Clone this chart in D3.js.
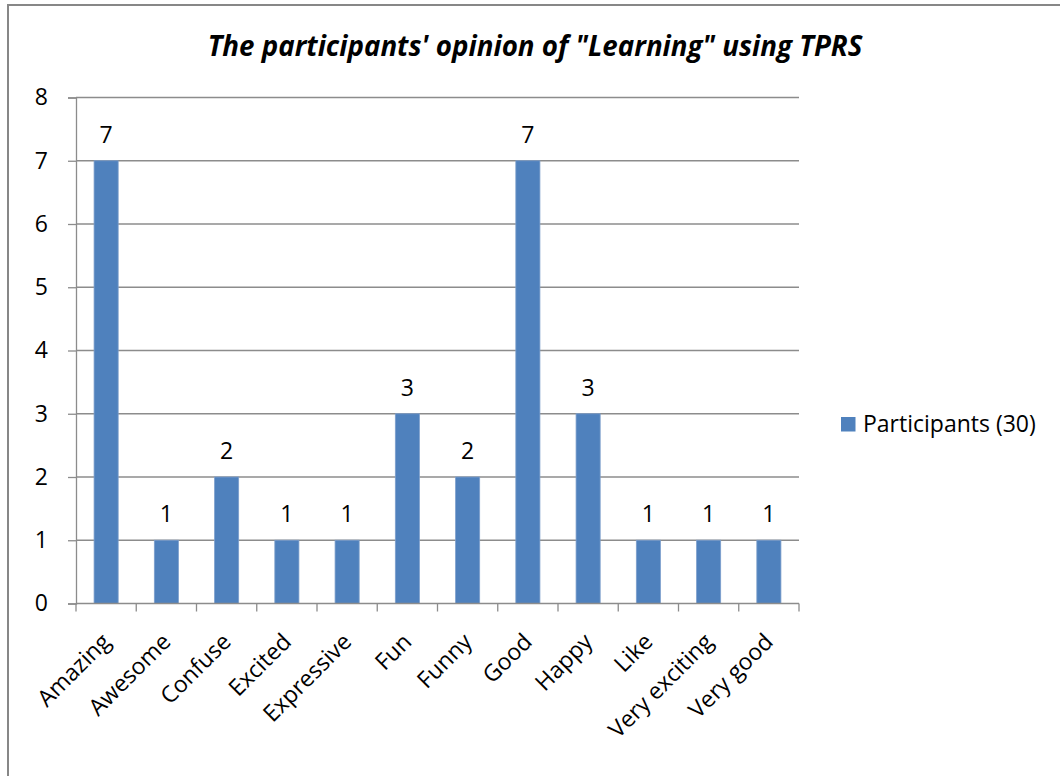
<!DOCTYPE html>
<html><head><meta charset="utf-8">
<script src="https://cdn.jsdelivr.net/npm/d3@7"></script>
<style>body{margin:0;background:#fff;} svg{display:block;}</style>
</head><body>
<svg id="c" width="1060" height="776"></svg>
<script>
const categories = ["Amazing","Awesome","Confuse","Excited","Expressive","Fun","Funny","Good","Happy","Like","Very exciting","Very good"];
const values = [7,1,2,1,1,3,2,7,3,1,1,1];
const yTicks = [0,1,2,3,4,5,6,7,8];
const seriesName = "Participants (30)";
const title = "The participants' opinion of \"Learning\" using TPRS";

const svg = d3.select("#c");
const font = "Open Sans, Noto Sans, sans-serif";
const fs = 23;
const m = {left:76, right:799, top:97.5, bottom:603.5};

// outer frame
svg.append("rect").attr("x",8).attr("y",5).attr("width",1100).attr("height",800)
  .attr("fill","none").attr("stroke","#878787").attr("stroke-width",2);

svg.append("text").attr("x",535).attr("y",56).attr("text-anchor","middle")
  .attr("font-family",font).attr("font-size",27.7).attr("font-weight","bold").attr("font-style","italic")
  .attr("fill","#000").text(title);

const x = d3.scaleBand().domain(categories).range([m.left,m.right]).paddingInner(0.6).paddingOuter(0.3);
const y = d3.scaleLinear().domain([0,8]).range([m.bottom,m.top]);

// gridlines
svg.append("g").selectAll("line").data(yTicks.filter(d=>d>0)).join("line")
  .attr("x1",m.left).attr("x2",m.right).attr("y1",d=>y(d)).attr("y2",d=>y(d))
  .attr("stroke","#8c8c8c").attr("stroke-width",1.3);

// y axis
const ya = svg.append("g").attr("transform",`translate(${m.left},0)`)
  .call(d3.axisLeft(y).tickValues(yTicks).tickSize(8).tickPadding(20).tickFormat(d3.format("d")));
ya.select(".domain").attr("stroke","#8c8c8c").attr("stroke-width",1.3);
ya.selectAll(".tick line").attr("stroke","#8c8c8c").attr("stroke-width",1.3);
ya.selectAll("text").attr("font-family",font).attr("font-size",fs).attr("fill","#000");

// bars
svg.append("g").selectAll("rect").data(categories).join("rect")
  .attr("x",d=>x(d)).attr("width",x.bandwidth())
  .attr("y",(d,i)=>y(values[i])).attr("height",(d,i)=>y(0)-y(values[i]))
  .attr("fill","#4F81BD").attr("stroke","#7d9fcc").attr("stroke-width",0.8);

// value labels
svg.append("g").selectAll("text").data(categories).join("text")
  .attr("x",d=>x(d)+x.bandwidth()/2).attr("y",(d,i)=>y(values[i])-18)
  .attr("text-anchor","middle").attr("font-family",font).attr("font-size",fs).attr("fill","#000")
  .text((d,i)=>values[i]);

// x axis
const bounds = d3.range(categories.length+1).map(i=>m.left + i*(m.right-m.left)/categories.length);
svg.append("line").attr("x1",m.left).attr("x2",m.right).attr("y1",y(0)).attr("y2",y(0))
  .attr("stroke","#8c8c8c").attr("stroke-width",1.3);
svg.append("g").selectAll("line").data(bounds).join("line")
  .attr("x1",d=>d).attr("x2",d=>d).attr("y1",y(0)).attr("y2",y(0)+8)
  .attr("stroke","#8c8c8c").attr("stroke-width",1.3);
svg.append("g").selectAll("text").data(categories).join("text")
  .attr("transform",d=>`translate(${x(d)+x.bandwidth()/2},${y(0)+34}) rotate(-45)`)
  .attr("text-anchor","end").attr("dy","0.35em")
  .attr("font-family",font).attr("font-size",fs).attr("fill","#000").text(d=>d);

// legend
svg.append("rect").attr("x",841).attr("y",417).attr("width",14.5).attr("height",14.5).attr("fill","#4F81BD");
svg.append("text").attr("x",863).attr("y",432).attr("font-family",font).attr("font-size",fs)
  .attr("fill","#000").text(seriesName);
</script>
</body></html>
